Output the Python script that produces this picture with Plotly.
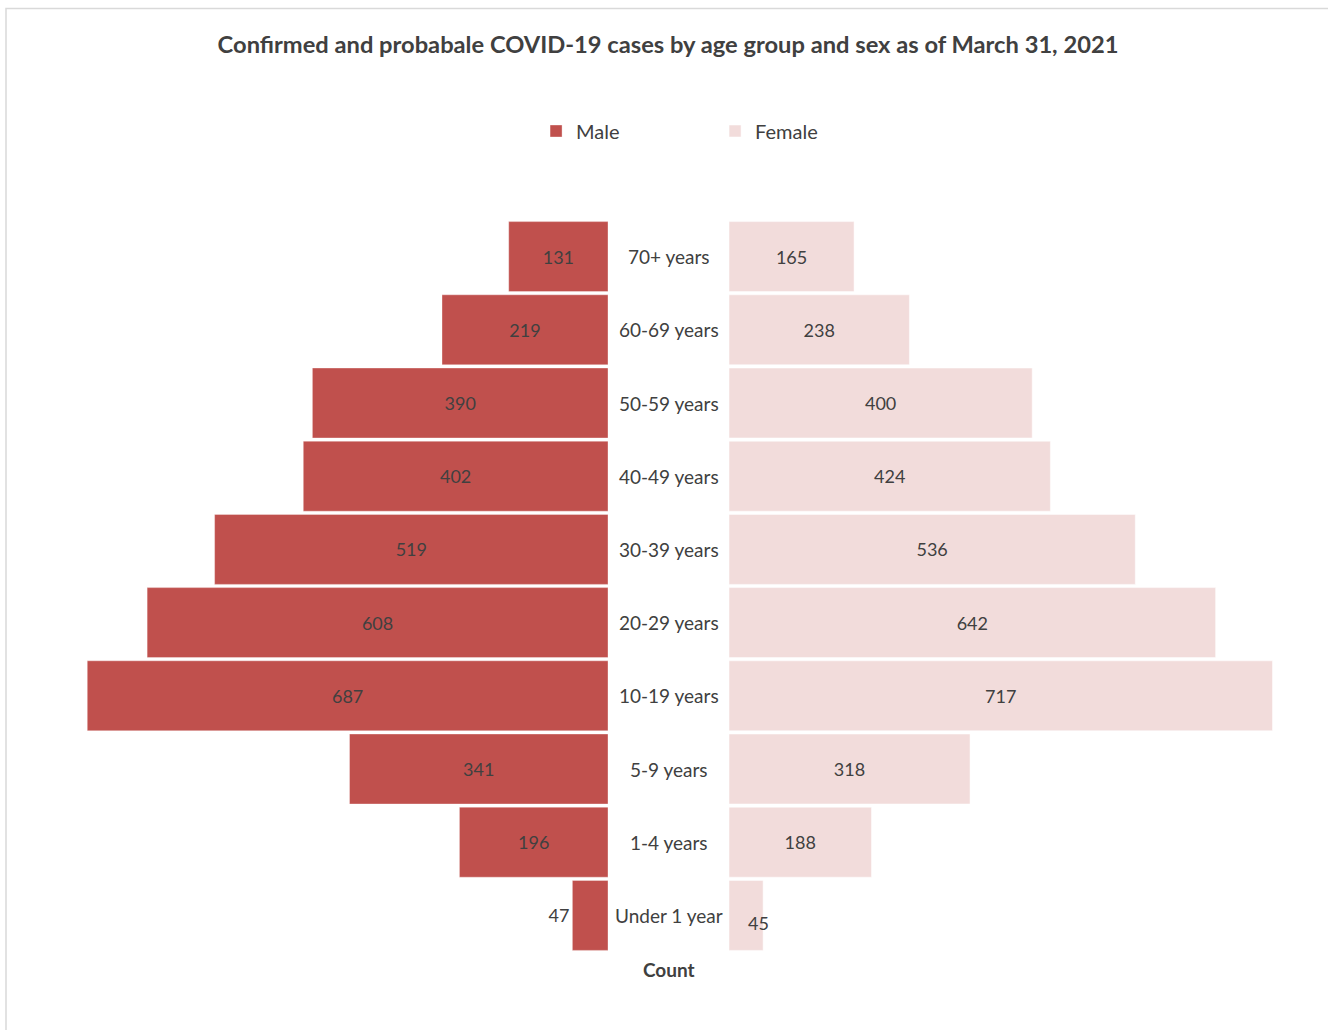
import plotly.graph_objects as go

categories = ["Under 1 year", "1-4 years", "5-9 years", "10-19 years", "20-29 years",
              "30-39 years", "40-49 years", "50-59 years", "60-69 years", "70+ years"]
male = [47, 196, 341, 687, 608, 519, 402, 390, 219, 131]
female = [45, 188, 318, 717, 642, 536, 424, 400, 238, 165]

W, H = 1328, 1030
MT, MB = 220, 78
FONT = "Lato"
TXT = "#404040"
male_color = "#C0504D"
female_color = "#F2DCDB"

px_per_unit = 0.758
male_right = 608
female_left = 729

male_pos = ["outside" if v < 60 else "inside" for v in male]
female_text = [str(v) if v >= 60 else "" for v in female]

fig = go.Figure()
fig.add_trace(go.Bar(
    name="Male", y=categories, x=male, orientation="h",
    marker=dict(color=male_color, line=dict(color="rgba(255,255,255,0.35)", width=1)),
    text=[str(v) for v in male], textposition=male_pos,
    insidetextanchor="middle", textangle=0,
    textfont=dict(family=FONT, size=18, color=TXT),
    outsidetextfont=dict(family=FONT, size=18, color=TXT),
    cliponaxis=False,
    xaxis="x", yaxis="y", hoverinfo="x+y",
))
fig.add_trace(go.Bar(
    name="Female", y=categories, x=female, orientation="h",
    marker=dict(color=female_color, line=dict(color="rgba(255,255,255,0.5)", width=1)),
    text=female_text, textposition="inside",
    insidetextanchor="middle", textangle=0,
    textfont=dict(family=FONT, size=18, color=TXT),
    xaxis="x2", yaxis="y", hoverinfo="x+y",
))

plot_h = H - MT - MB
def py(pix):
    return (H - MB - pix) / plot_h

annotations = []
# center category labels
for c in categories:
    annotations.append(dict(
        x=(male_right + female_left) / 2 / W, xref="paper", y=c, yref="y",
        text=c, showarrow=False, xanchor="center", yanchor="middle",
        font=dict(family=FONT, size=19, color=TXT),
    ))
# small female value label placed like the reference
for c, v in zip(categories, female):
    if v < 60:
        annotations.append(dict(
            x=v, xref="x2", y=c, yref="y", text=str(v), showarrow=False,
            xanchor="center", yanchor="middle", xshift=-5, yshift=-8,
            font=dict(family=FONT, size=18, color=TXT),
        ))
annotations.append(dict(
    x=(male_right + female_left) / 2 / W, xref="paper", y=py(969), yref="paper",
    text="<b>Count</b>", showarrow=False, xanchor="center", yanchor="middle",
    font=dict(family=FONT, size=19, color=TXT),
))

fig.update_layout(
    width=W, height=H,
    margin=dict(l=0, r=0, t=MT, b=MB, pad=0),
    paper_bgcolor="white", plot_bgcolor="white",
    barmode="overlay", bargap=0.044,
    title=dict(text="<b>Confirmed and probabale COVID-19 cases by age group and sex as of March 31, 2021</b>",
               x=668 / W, xanchor="center", y=1 - 45 / H, yanchor="middle",
               font=dict(family=FONT, size=23.7, color=TXT)),
    xaxis=dict(domain=[0, male_right / W], range=[male_right / px_per_unit, 0],
               visible=False, fixedrange=True),
    xaxis2=dict(domain=[female_left / W, 1], range=[0, (W - female_left) / px_per_unit],
                visible=False, fixedrange=True),
    yaxis=dict(range=[-0.5, 9.5], visible=False, categoryorder="array", categoryarray=categories),
    showlegend=True,
    legend=dict(orientation="h", x=552 / W - 0.012, xanchor="left", y=py(131), yanchor="middle",
                entrywidth=134, entrywidthmode="pixels", itemwidth=30,
                font=dict(family=FONT, size=20, color=TXT), bgcolor="rgba(0,0,0,0)"),
    annotations=annotations,
    shapes=[dict(type="rect", xref="paper", yref="paper",
                 x0=6 / W, x1=(W + 20) / W, y0=py(H + 20), y1=py(8.5),
                 line=dict(color="#D9D9D9", width=1.5), fillcolor="rgba(0,0,0,0)", layer="below")],
    uniformtext=dict(mode=False),
)

fig.write_html("out.html")
